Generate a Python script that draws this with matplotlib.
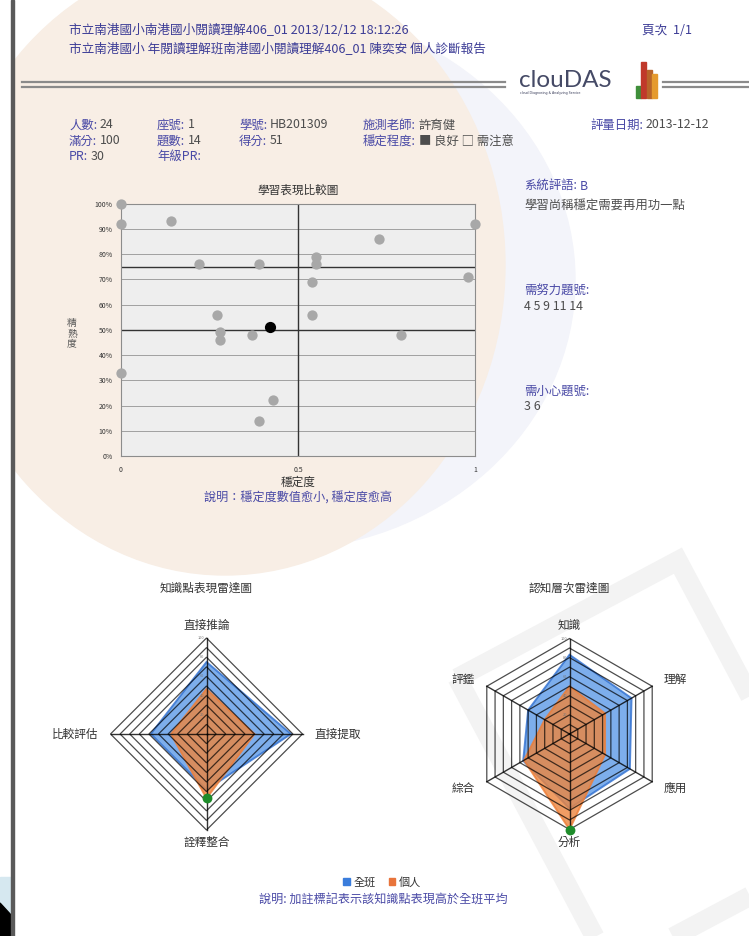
import matplotlib
matplotlib.use("Agg")
import matplotlib.pyplot as plt
import numpy as np
from matplotlib.patches import Ellipse, Polygon, Rectangle, Patch

plt.rcParams['font.family'] = ['Noto Sans CJK TC', 'DejaVu Sans']

W, H = 749, 936

# ---------------- data ----------------
stability = [0.00, 0.00, 0.14, 1.00, 0.73, 0.55, 0.55, 0.22, 0.39, 0.98,
             0.54, 0.27, 0.54, 0.28, 0.28, 0.37, 0.79, 0.00, 0.43, 0.39]
mastery = [100, 92, 93, 92, 86, 79, 76, 76, 76, 71,
           69, 56, 56, 49, 46, 48, 48, 33, 22, 14]
self_stability = [0.42]
self_mastery = [51]
y_ticks = [0, 10, 20, 30, 40, 50, 60, 70, 80, 90, 100]
y_tick_labels = [f"{v}%" for v in y_ticks]
x_ticks = [0, 0.5, 1]
x_tick_labels = ["0", "0.5", "1"]
ref_x = 0.5
ref_y = [75, 50]

kp_labels = ["直接推論", "直接提取", "詮釋整合", "比較評估"]
kp_class = [75, 88, 58, 58]
kp_self = [47, 50, 67, 37]

cog_labels = ["知識", "理解", "應用", "分析", "綜合", "評鑑"]
cog_class = [83, 75, 73, 78, 56, 50]
cog_self = [50, 43, 43, 100, 55, 30]

ring_levels = [10, 20, 30, 40, 50, 60, 70, 80, 90, 100]
ring_tick_labels = [20, 40, 60, 80, 100]

BLUE = "#4a4aa6"
GREY = "#4d4d4d"
FS = 8.9

fig = plt.figure(figsize=(W / 100, H / 100), dpi=100)
fig.patch.set_facecolor("white")
bg = fig.add_axes([0, 0, 1, 1])
bg.set_xlim(0, W)
bg.set_ylim(H, 0)
bg.axis("off")

# ---------------- background decoration ----------------
bg.add_patch(Ellipse((275, 280), 600, 540, color="#f3f4fa", zorder=0))
bg.add_patch(Ellipse((225, 265), 560, 620, color="#f8eee5", zorder=0.1))
wm = Rectangle((520, 600), 250, 330, angle=-28, rotation_point="center",
               fill=False, ec="#f3f3f3", lw=14, zorder=0.2)
bg.add_patch(wm)
bg.add_patch(Rectangle((0, 0), 11, H, color="white", zorder=0.5))
bg.add_patch(Rectangle((0, 877), 11, 59, color="#d6e8f0", zorder=0.6))
bg.add_patch(Polygon([(0, 903), (11, 915), (11, 936), (0, 936)], color="black", zorder=0.7))
bg.add_patch(Rectangle((11, 0), 3, H, color="#5a5a5a", zorder=0.8))

# ---------------- header ----------------
HC = "#3c3c96"
bg.text(69, 30, "市立南港國小南港國小閱讀理解406_01 2013/12/12 18:12:26",
        fontsize=9.1, color=HC, va="center")
bg.text(69, 49, "市立南港國小 年閱讀理解班南港國小閱讀理解406_01 陳奕安 個人診斷報告",
        fontsize=9.1, color=HC, va="center")
bg.text(642, 30, "頁次  1/1", fontsize=9.1, color=HC, va="center")

for yy in (82, 87):
    bg.plot([22, 505], [yy, yy], color="#8a8a8a", lw=1.6, zorder=1)
    bg.plot([663, 749], [yy, yy], color="#8a8a8a", lw=1.6, zorder=1)

# logo
bg.text(519, 87, "clouDAS", family="Lato", fontsize=17.5, color="#454a66", va="baseline")
bg.text(520, 93, "cloud Diagnosing & Analyzing Service", family="DejaVu Sans",
        fontsize=2.3, color="#3b3f5c", va="center")
for (x0, top, col) in [(636, 86, "#3f8f3a"), (641, 62, "#c0392b"),
                       (647, 70, "#b8642a"), (652, 74, "#e59a2e")]:
    bg.add_patch(Rectangle((x0, top), 5, 98 - top, color=col, zorder=2))


# ---------------- info block ----------------
def pair(x, y, label, value, fs=FS, vcol=GREY, lcol=BLUE):
    t = bg.text(x, y, label, color=lcol, fontsize=fs, va="center")
    bg.annotate(value, xy=(1, 0.5), xycoords=t, xytext=(2, 0),
                textcoords="offset points", va="center", ha="left",
                color=vcol, fontsize=fs)


pair(69, 125, "人數:", "24")
pair(69, 141, "滿分:", "100")
pair(69, 156, "PR:", "30")
pair(157, 125, "座號:", "1")
pair(157, 141, "題數:", "14")
pair(157, 156, "年級PR:", "")
pair(239, 125, "學號:", "HB201309")
pair(239, 141, "得分:", "51")
pair(363, 125, "施測老師:", "許育健")
pair(363, 141, "穩定程度:", "■ 良好 □ 需注意")
pair(590, 125, "評量日期:", "2013-12-12")

# right comments
pair(524, 186, "系統評語:", "B", vcol=BLUE)
bg.text(524, 205, "學習尚稱穩定需要再用功一點", fontsize=FS, color=GREY, va="center")
bg.text(524, 291, "需努力題號:", fontsize=FS, color=BLUE, va="center")
bg.text(524, 306, "4 5 9 11 14", fontsize=FS, color=GREY, va="center")
bg.text(524, 391, "需小心題號:", fontsize=FS, color=BLUE, va="center")
bg.text(524, 406, "3 6", fontsize=FS, color=GREY, va="center")

# ---------------- scatter ----------------
ax = fig.add_axes([121 / W, 1 - 456 / H, 354 / W, 252.5 / H])
ax.set_facecolor("#eeeeee")
ax.set_xlim(0, 1)
ax.set_ylim(0, 100)
ax.set_yticks(y_ticks)
ax.set_yticklabels(y_tick_labels)
ax.set_xticks(x_ticks)
ax.set_xticklabels(x_tick_labels)
ax.tick_params(length=0, labelsize=5, colors="#333333")
ax.tick_params(axis="y", pad=6)
ax.tick_params(axis="x", pad=7)
ax.grid(axis="y", color="#a0a0a0", lw=0.7, zorder=1)
ax.set_axisbelow(True)
for s in ax.spines.values():
    s.set_color("#8c8c8c")
    s.set_linewidth(0.8)
ax.axvline(ref_x, color="#333333", lw=1.0, zorder=2)
for v in ref_y:
    ax.axhline(v, color="#333333", lw=1.0, zorder=2)
ax.scatter(stability, mastery, s=55, color="#a8a8a8", linewidths=0, zorder=3, clip_on=False)
ax.scatter(self_stability, self_mastery, s=65, color="black", linewidths=0, zorder=4)

bg.text(298, 190, "學習表現比較圖", fontsize=8.4, color="#333333", ha="center", va="center")
bg.text(298, 482, "穩定度", fontsize=8.4, color="#333333", ha="center", va="center")
bg.text(72, 333, "精\n熟\n度", fontsize=7, color="#555555", ha="center", va="center",
        linespacing=1.05)
bg.text(298, 497, "說明：穩定度數值愈小, 穩定度愈高", fontsize=8.7, color=BLUE,
        ha="center", va="center")


# ---------------- radars ----------------
def radar(cx, cy, R, labels, cls, me, title, lab_r):
    a = fig.add_axes([(cx - R) / W, 1 - (cy + R) / H, 2 * R / W, 2 * R / H])
    a.set_xlim(-1, 1)
    a.set_ylim(-1, 1)
    a.axis("off")
    n = len(labels)
    ang = np.pi / 2 - 2 * np.pi * np.arange(n) / n
    ux, uy = np.cos(ang), np.sin(ang)
    c = np.array(cls) / 100
    m = np.array(me) / 100
    a.add_patch(Polygon(np.c_[c * ux, c * uy], closed=True, fc="#5c9ae8",
                        ec="#2f6fd0", lw=1.4, alpha=0.8, zorder=3, clip_on=False))
    a.add_patch(Polygon(np.c_[m * ux, m * uy], closed=True, fc="#ed853d",
                        ec="#ee7d35", lw=1.4, alpha=0.8, zorder=4, clip_on=False))
    for lv in ring_levels:
        r = lv / 100
        a.add_patch(Polygon(np.c_[r * ux, r * uy], closed=True, fill=False,
                            ec="black", lw=0.9, alpha=0.7, zorder=5, clip_on=False))
    for i in range(n):
        a.plot([0, ux[i]], [0, uy[i]], color="black", lw=1.0, alpha=0.8, zorder=5,
               clip_on=False)
    above = m > c
    a.scatter((m * ux)[above], (m * uy)[above], s=50, color="#1e8c2a", zorder=6,
              clip_on=False, linewidths=0)
    for lv in ring_tick_labels:
        a.text(-0.02, lv / 100, str(lv), fontsize=2.8, color="#777777",
               ha="right", va="center", zorder=7)
    for i, lab in enumerate(labels):
        x, y = lab_r * ux[i], lab_r * uy[i]
        if ux[i] > 0.1:
            ha = "left"
        elif ux[i] < -0.1:
            ha = "right"
        else:
            ha = "center"
        a.text(x, y, lab, fontsize=8.4, color="#333333", ha=ha, va="center",
               clip_on=False)
    bg.text(cx, 588, title, fontsize=8.4, color="#333333", ha="center", va="center")


radar(206.5, 734, 96, kp_labels, kp_class, kp_self, "知識點表現雷達圖", 1.13)
radar(569.5, 734, 95.5, cog_labels, cog_class, cog_self, "認知層次雷達圖", 1.14)

# legend + note
fig.legend(handles=[Patch(color="#3a7ddc", label="全班"), Patch(color="#e8743b", label="個人")],
           loc="center", bbox_to_anchor=(382 / W, 1 - 882 / H), ncol=2, frameon=False,
           fontsize=8, handlelength=0.6, handleheight=0.6, handletextpad=0.3,
           columnspacing=1.2, labelcolor="#333333")
bg.text(383, 900, "說明: 加註標記表示該知識點表現高於全班平均", fontsize=8.7, color=BLUE,
        ha="center", va="center")

fig.savefig("out.png", dpi=100)
